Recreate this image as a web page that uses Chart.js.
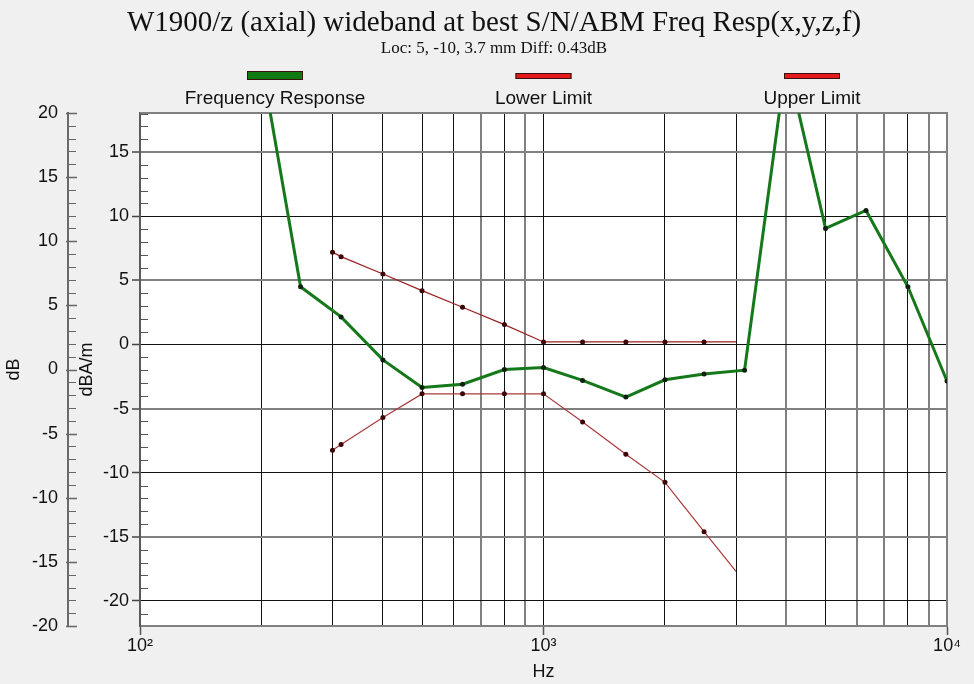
<!DOCTYPE html>
<html>
<head>
<meta charset="utf-8">
<title>W1900/z Freq Resp</title>
<script src="https://cdn.jsdelivr.net/npm/chart.js@4.4.1/dist/chart.umd.min.js"></script>
<style>
  html, body { margin: 0; padding: 0; background: #f0f0f0; }
  #chart { display: block; }
</style>
</head>
<body>
<canvas id="chart" width="974" height="684"></canvas>
<script>
// measured response at the 1/3 octave points (dBA/m)
const respFreqs = [200, 250, 315, 400, 500, 630, 800, 1000, 1250, 1600, 2000, 2500, 3150, 4000, 5000, 6300, 8000, 10000];
const respValues = [22.0, 4.5, 2.15, -1.2, -3.35, -3.1, -1.95, -1.8, -2.8, -4.1, -2.75, -2.3, -2.0, 22.2, 9.05, 10.45, 4.5, -2.85];

// tolerance template
const limitFreqs = [300, 315, 400, 500, 630, 800, 1000, 1250, 1600, 2000, 2500, 3000];
const upperValues = [7.2, 6.85, 5.5, 4.2, 2.9, 1.55, 0.2, 0.2, 0.2, 0.2, 0.2, 0.2];
const lowerValues = [-8.25, -7.8, -5.7, -3.85, -3.85, -3.85, -3.85, -6.05, -8.55, -10.75, -14.6, -17.7];

// axes
const gridFreqs = [100, 200, 300, 400, 500, 600, 700, 800, 900,
                   1000, 2000, 3000, 4000, 5000, 6000, 7000, 8000, 9000, 10000];
const softFreqs = [700, 900, 4000, 6000, 7000, 9000];
const dbTicks = [-20, -15, -10, -5, 0, 5, 10, 15, 20];
const dbaTicks = [-20, -15, -10, -5, 0, 5, 10, 15];
const dbaRange = [-21.95, 18.05];

const legendColors = ['#0f7a12', '#e31b1b', '#e31b1b'];

const SANS = '"Liberation Sans", Arial, sans-serif';
const SERIF = '"Liberation Serif", "Times New Roman", serif';
const SUP = { 2: '\u00b2', 3: '\u00b3', 4: '\u2074' };

function toPoints(xs, ys) {
    return xs.map((x, i) => ({ x: x, y: ys[i] }));
}

function setTicks(values) {
    return scale => { scale.ticks = values.map(v => ({ value: v })); };
}

// background, frame, small tick marks, titles and legend
const decorations = {
    id: 'decorations',
    beforeDraw(chart) {
        const { ctx, chartArea: a } = chart;
        ctx.save();
        ctx.fillStyle = '#f0f0f0';
        ctx.fillRect(0, 0, chart.width, chart.height);
        ctx.fillStyle = '#ffffff';
        ctx.fillRect(a.left, a.top, a.right - a.left, a.bottom - a.top);
        ctx.restore();
    },
    beforeDatasetsDraw(chart) {
        const { ctx, chartArea: a, scales } = chart;
        ctx.save();
        ctx.strokeStyle = '#808080';
        ctx.lineWidth = 2;
        ctx.beginPath();
        ctx.moveTo(a.left, a.top);
        ctx.lineTo(a.right, a.top);
        ctx.lineTo(a.right, a.bottom);
        ctx.stroke();

        // minor ticks of the dBA/m axis, inside the plot
        ctx.strokeStyle = '#555';
        ctx.lineWidth = 1;
        const inner = scales.y;
        for (let v = Math.ceil(inner.min); v <= Math.floor(inner.max); v++) {
            if (v % 5 === 0) continue;
            const py = Math.round(inner.getPixelForValue(v)) + 0.5;
            ctx.beginPath();
            ctx.moveTo(a.left, py);
            ctx.lineTo(a.left + 8, py);
            ctx.stroke();
        }

        // dB axis ticks point towards the plot
        const outer = scales.dB;
        ctx.strokeStyle = '#666';
        for (let v = outer.min; v <= outer.max; v++) {
            const py = Math.round(outer.getPixelForValue(v)) + 0.5;
            const major = v % 5 === 0;
            ctx.lineWidth = major ? 1.5 : 1;
            ctx.beginPath();
            ctx.moveTo(outer.right - (major ? 2 : 0), py);
            ctx.lineTo(outer.right + (major ? 9 : 8), py);
            ctx.stroke();
        }
        ctx.restore();
    },
    afterDraw(chart) {
        const { ctx, chartArea: a } = chart;
        ctx.save();
        ctx.fillStyle = '#111';
        ctx.textAlign = 'center';
        ctx.textBaseline = 'middle';
        ctx.font = '29px ' + SERIF;
        ctx.fillText('W1900/z (axial) wideband at best S/N/ABM Freq Resp(x,y,z,f)', 494, 23, 735);
        ctx.font = '17px ' + SERIF;
        ctx.fillText('Loc: 5, -10, 3.7 mm Diff: 0.43dB', 494, 49, 273);

        // legend: colour bar above each label
        const mid = (a.left + a.right) / 2;
        const step = 268.5;
        chart.data.datasets.forEach((ds, i) => {
            const cx = mid + (i - 1) * step;
            const h = i === 0 ? 9 : 6;
            const top = i === 0 ? 71 : 73;
            ctx.fillStyle = legendColors[i];
            ctx.fillRect(cx - 28, top, 56, h);
            ctx.strokeStyle = '#3a1010';
            ctx.lineWidth = 1;
            ctx.strokeRect(cx - 27.5, top + 0.5, 55, h - 1);
            ctx.fillStyle = '#111';
            ctx.font = '19px ' + SANS;
            ctx.fillText(ds.label, cx, 99);
        });
        ctx.restore();
    }
};

const ctx = document.getElementById('chart').getContext('2d');
const lastLimit = limitFreqs.length - 1;

new Chart(ctx, {
    type: 'line',
    data: {
        datasets: [
            {
                label: 'Frequency Response',
                data: toPoints(respFreqs, respValues),
                borderColor: '#15781a',
                borderWidth: 3,
                pointRadius: 2.5,
                pointBackgroundColor: '#102010',
                pointBorderWidth: 0,
                clip: 0,
                order: 0
            },
            {
                label: 'Lower Limit',
                data: toPoints(limitFreqs, lowerValues),
                borderColor: '#a83a3a',
                borderWidth: 1.2,
                pointRadius: c => c.dataIndex === lastLimit ? 0 : 2.5,
                pointBackgroundColor: '#3d0505',
                pointBorderWidth: 0,
                clip: 0,
                order: 1
            },
            {
                label: 'Upper Limit',
                data: toPoints(limitFreqs, upperValues),
                borderColor: '#9a2020',
                borderWidth: 1.2,
                pointRadius: c => c.dataIndex === lastLimit ? 0 : 2.5,
                pointBackgroundColor: '#3d0505',
                pointBorderWidth: 0,
                clip: 0,
                order: 1
            }
        ]
    },
    options: {
        responsive: false,
        animation: false,
        devicePixelRatio: 1,
        layout: { padding: { top: 113, right: 27, bottom: 0, left: 0 } },
        plugins: {
            legend: { display: false },
            tooltip: { enabled: false }
        },
        elements: { line: { tension: 0 } },
        scales: {
            x: {
                type: 'logarithmic',
                position: 'bottom',
                min: 100,
                max: 10000,
                afterBuildTicks: setTicks(gridFreqs),
                afterFit: s => { s.height = 58; },
                ticks: {
                    autoSkip: false,
                    maxRotation: 0,
                    padding: 0,
                    color: '#111',
                    font: { family: SANS, size: 18 },
                    callback: v => {
                        const e = Math.log10(v);
                        return Number.isInteger(e) ? '10' + SUP[e] : '';
                    }
                },
                grid: {
                    color: c => softFreqs.includes(c.tick.value) ? '#808080' : '#111',
                    lineWidth: c => softFreqs.includes(c.tick.value) ? 2 : 1,
                    tickLength: 9,
                    tickColor: c => Number.isInteger(Math.log10(c.tick.value)) ? '#555' : 'rgba(0,0,0,0)',
                    tickWidth: 1.5
                },
                border: { display: true, color: '#808080', width: 2 },
                title: {
                    display: true,
                    text: 'Hz',
                    color: '#111',
                    font: { family: SANS, size: 18 },
                    padding: { top: 0, bottom: 1 }
                }
            },
            y: {
                position: 'left',
                weight: 0,
                min: dbaRange[0],
                max: dbaRange[1],
                afterBuildTicks: setTicks(dbaTicks),
                afterFit: s => { s.width = 72; },
                ticks: {
                    autoSkip: false,
                    padding: 3,
                    color: '#111',
                    font: { family: SANS, size: 18 }
                },
                grid: {
                    color: c => c.tick.value % 10 === 0 ? '#111' : '#808080',
                    lineWidth: c => c.tick.value % 10 === 0 ? 1 : 2,
                    tickLength: 8,
                    tickColor: '#444',
                    tickWidth: 1.5
                },
                border: { display: true, color: '#5a5a5a', width: 2 },
                title: {
                    display: true,
                    text: 'dBA/m',
                    color: '#111',
                    font: { family: SANS, size: 18 },
                    padding: { top: 8, bottom: 0 }
                }
            },
            dB: {
                position: 'left',
                weight: 1,
                min: -20,
                max: 20,
                afterBuildTicks: setTicks(dbTicks),
                afterFit: s => { s.width = 68; },
                ticks: {
                    autoSkip: false,
                    padding: 10,
                    color: '#111',
                    font: { family: SANS, size: 18 }
                },
                grid: { display: false, drawOnChartArea: false, drawTicks: false },
                border: { display: true, color: '#6a6a6a', width: 2 },
                title: {
                    display: true,
                    text: 'dB',
                    color: '#111',
                    font: { family: SANS, size: 18 },
                    padding: { top: 3, bottom: 0 }
                }
            }
        }
    },
    plugins: [decorations]
});
</script>
</body>
</html>
